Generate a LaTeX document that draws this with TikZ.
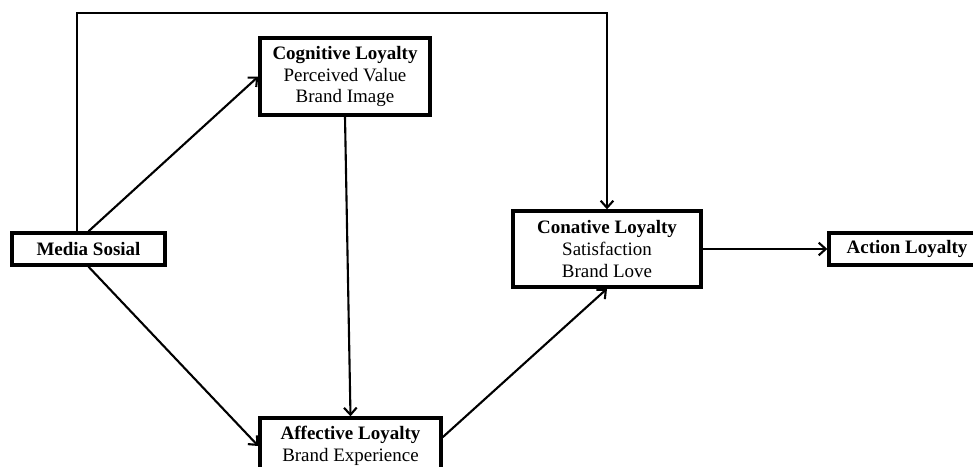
\documentclass[tikz,border=0pt]{standalone}
\usepackage{fontspec}
\setmainfont{Liberation Serif}
\usepackage{tikz}
\usetikzlibrary{calc,arrows.meta}

\begin{document}
\begin{tikzpicture}[
		>={Straight Barb[length=5pt,width=9pt]},
		loyaltybox/.style={rectangle,draw,line width=2.4pt,align=center,
		font=\fontsize{13.5}{15.5}\selectfont,inner sep=0pt},
		link/.style={line width=1.5pt}
		]
		\clip (-2.2125,-5.425) rectangle (22.1125,6.225);

		\node[loyaltybox, minimum width=3.825cm, minimum height=0.8cm](MS){\textbf{Media Sosial}};
		\node[loyaltybox, right of = MS, xshift = 5.4125cm, yshift = 4.3125cm,
		minimum width=4.25cm, minimum height=1.925cm](CL){\textbf{Cognitive Loyalty}\\Perceived Value\\Brand Image};
		\node[loyaltybox, right of = MS, xshift = 5.55cm, yshift = -4.925cm,
		minimum width=4.525cm, minimum height=1.4cm](AL){\textbf{Affective Loyalty}\\Brand Experience};
		\node[loyaltybox, right of = MS, xshift = 11.9625cm,
		minimum width=4.7cm, minimum height=1.9cm](NL){\textbf{Conative Loyalty}\\Satisfaction\\Brand Love};
		\node[loyaltybox, right of = NL, xshift = 6.5cm,
		minimum width=3.9cm, minimum height=0.8cm](TL){\textbf{Action Loyalty}};

		\draw[link,->] ([xshift=-0.29cm]MS.north) |- ([yshift=4.9cm]NL.north) -- (NL.north);
		\draw[link,->] (MS.north) -- (CL.west);
		\draw[link,->] (MS.south) -- (AL.west);
		\draw[link,->] (CL.south) -- (AL.north);
		\draw[link,->] ([yshift=0.22cm]AL.east) -- (NL.south);
		\draw[link,->] (NL.east) -- (TL.west);
	\end{tikzpicture}
\end{document}
